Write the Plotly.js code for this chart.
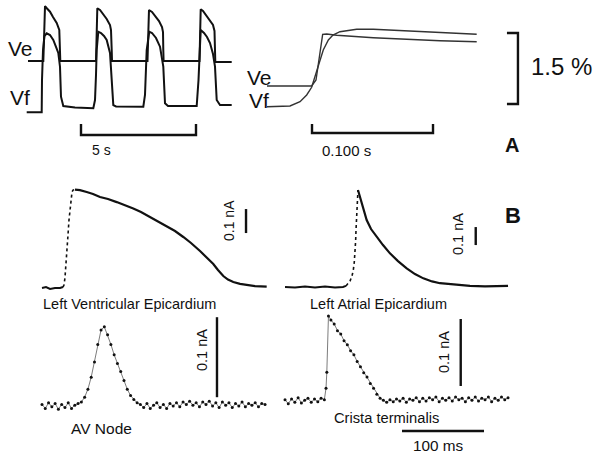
<!DOCTYPE html>
<html>
<head>
<meta charset="utf-8">
<script src="https://cdn.plot.ly/plotly-3.0.1.min.js"></script>
<style>body{margin:0;background:#fff}#chart{width:601px;height:456px}</style>
</head>
<body>
<div id="chart"></div>
<script>
// Panel A, left: optical signals (%) vs time (s)
const aVeT = [0.043,0.709,0.739,0.783,0.870,1.0,1.130,1.291,1.404,1.435,1.448,3.0,3.022,3.057,3.174,3.304,3.465,3.609,3.652,3.683,3.696,5.239,5.261,5.304,5.435,5.565,5.739,5.870,5.913,5.926,5.939,7.5,7.522,7.552,7.652,7.783,7.957,8.087,8.152,8.174,8.187,8.9];
const aVeY = [0.994,0.994,1.438,2.156,2.104,2.036,1.924,1.797,1.649,1.226,0.994,0.994,1.543,2.108,2.072,1.987,1.882,1.755,1.649,1.226,0.994,0.994,1.543,2.072,2.030,1.945,1.839,1.712,1.607,1.226,0.994,0.994,1.543,2.087,2.051,1.966,1.861,1.755,1.628,1.226,0.973,0.973];
const aVfT = [-0.013,0.639,0.652,0.696,0.761,0.857,1.0,1.143,1.261,1.361,1.435,1.478,1.578,2.087,2.883,2.957,3.0,3.030,3.1,3.217,3.348,3.465,3.609,3.683,3.752,3.870,5.057,5.130,5.204,5.317,5.435,5.609,5.783,5.926,6.0,6.130,7.378,7.457,7.522,7.552,7.696,7.826,7.957,8.087,8.174,8.248,8.391,8.9];
const aVfY = [-0.091,-0.091,0.592,1.226,1.522,1.579,1.543,1.438,1.290,1.163,0.873,0.239,0.042,0.011,-0.006,0.169,0.698,1.226,1.613,1.586,1.522,1.438,1.163,0.662,0.063,0.032,0.027,0.275,1.226,1.613,1.586,1.480,1.296,0.873,0.099,0.042,0.042,0.592,1.332,1.649,1.586,1.501,1.374,1.142,0.873,0.169,0.063,0.063];

// Panel A, right: upstroke on a fast time base (s)
const fVeT = [0,0.0369,0.0405,0.0421,0.0438,0.0460,0.0493,0.0576,0.0879,0.1155,0.1430,0.1733];
const fVeY = [0.465,0.465,0.592,0.846,1.163,1.558,1.564,1.537,1.486,1.452,1.423,1.402];
const fVfT = [0,0.0190,0.0273,0.0328,0.0369,0.0411,0.0465,0.0507,0.0545,0.0603,0.0741,0.0879,0.1155,0.1430,0.1733];
const fVfY = [0.027,0.042,0.133,0.275,0.438,0.767,1.226,1.438,1.543,1.613,1.664,1.664,1.634,1.600,1.558];

// Panel B: currents (nA) vs time (ms)
const lveRiseT = [25.6,26.8,28.0,29.3,30.5,31.7,32.9,34.1,35.4,36.6,37.8,40.2];
const lveRiseI = [0.004,0.0125,0.042,0.096,0.158,0.221,0.283,0.333,0.375,0.4,0.408,0.41];
const lveT = [0,4.9,9.8,15.9,22,25.6];
const lveI = [0,0.004,-0.004,0,0,0.004];
const lveDecayT = [40.2,46.3,54.5,62.2,70.7,80.5,91.1,101.2,111.3,120.7,131.7,141.5,152.1,162.2,172.3,181.7,192.7,201.2,208.9,214.6,221.1,226.8,233.3,241.5,249.6,259.8,274];
const lveDecayI = [0.41,0.408,0.4,0.392,0.379,0.371,0.358,0.346,0.331,0.317,0.296,0.279,0.26,0.2375,0.2125,0.1875,0.154,0.125,0.1,0.075,0.05,0.035,0.025,0.017,0.0125,0.008,0.006];

const laeT = [0,12.2,24.4,36.6,48.8,61,70.7,74.4];
const laeI = [0,-0.003,0.003,-0.003,0.003,-0.003,0,0.006];
const laeRiseT = [74.4,76.8,79.3,81.7,83.3,84.5,85.4,86.2,86.6,87.2,87.4,87.8,88.2,89];
const laeRiseI = [0.006,0.017,0.033,0.061,0.094,0.139,0.189,0.261,0.317,0.372,0.428,0.483,0.528,0.539];
const laeDecayT = [89,91.5,95.1,99.6,104.9,111.8,119.5,128,137.8,148.4,158.5,168.7,179.3,189,209.4,225.6,243.9,272];
const laeDecayI = [0.539,0.502,0.45,0.372,0.322,0.279,0.233,0.187,0.144,0.104,0.072,0.048,0.031,0.021,0.011,0.006,0.003,0.006];

const avT = [0,4,8,12,16,20,24,28,32,36,40,44,48,52,56,60,64,68,72,76,80,84,88,92,96,100,104,108,112,116,120,124,128,132,136,140,144,148,152,156,160,164,168,172,176,180,184,188,192,196,200,204,208,212,216,220,224,228,232,236,240,244,248,252,256,260,264,268,272];
const avI = [0.002,-0.003,0.004,-0.001,0.003,-0.004,0.002,-0.002,0.004,-0.003,0.001,0.003,0.005,0.011,0.021,0.036,0.055,0.077,0.095,0.099,0.089,0.077,0.064,0.053,0.043,0.032,0.021,0.013,0.008,0.004,0.002,-0.002,0.003,-0.003,0.001,0.004,-0.002,0.002,-0.003,0.003,0.000,0.004,-0.001,0.005,0.002,0.006,0.001,0.004,-0.001,0.005,0.002,0.006,0.000,0.004,-0.002,0.005,0.001,0.004,-0.002,0.003,0.000,0.005,-0.001,0.003,0.001,0.004,-0.001,0.003,0.002];

const ctT = [0,4,8,12,16,20,24,28,32,36,40,44,48,50,51,53,56,60,64,68,72,76,80,84,88,92,96,100,104,108,112,116,120,124,128,132,136,140,144,148,152,156,160,164,168,172,176,180,184,188,192,196,200,204,208,212,216,220,224,228,232,236,240,244,248,252,256,260,264,268,272];
const ctI = [0.002,-0.004,0.003,-0.002,0.005,-0.003,0.001,0.004,-0.002,0.003,-0.001,0.004,0.002,0.019,0.043,0.127,0.121,0.115,0.105,0.100,0.090,0.084,0.075,0.069,0.059,0.051,0.042,0.036,0.026,0.019,0.010,0.004,0.001,-0.002,0.002,-0.001,0.003,0.000,0.004,-0.002,0.003,0.001,0.005,-0.001,0.004,0.000,0.005,0.002,0.006,-0.001,0.004,0.001,0.005,0.000,0.006,0.002,0.004,-0.001,0.005,0.001,0.006,0.000,0.004,0.002,0.006,-0.001,0.004,0.001,0.006,0.002,0.005];

const W = 601, H = 456;
const fx = p => p / W;
const fy = p => 1 - p / H;

function ax(x0, x1, r) { return {domain: [fx(x0), fx(x1)], range: r, visible: false, fixedrange: true}; }
function ay(y0, y1, r) { return {domain: [fy(y1), fy(y0)], range: r, visible: false, fixedrange: true}; }

const black = '#111';
function line(x, y, xa, ya, w, col, dash) {
  return {x: x, y: y, xaxis: xa, yaxis: ya, type: 'scatter', mode: 'lines', hoverinfo: 'skip',
    line: {color: col || black, width: w, dash: dash || 'solid'}};
}
function dots(x, y, xa, ya) {
  return {x: x, y: y, xaxis: xa, yaxis: ya, type: 'scatter', mode: 'lines+markers', hoverinfo: 'skip',
    line: {color: '#444', width: 0.7}, marker: {color: black, size: 3}};
}

const data = [
  line(aVeT, aVeY, 'x', 'y', 2),
  line(aVfT, aVfY, 'x', 'y', 2),
  line(fVeT, fVeY, 'x2', 'y2', 1.4, '#333'),
  line(fVfT, fVfY, 'x2', 'y2', 1.4, '#333'),
  line(lveT, lveI, 'x3', 'y3', 2),
  line(lveRiseT, lveRiseI, 'x3', 'y3', 1.6, black, 'dot'),
  line(lveDecayT, lveDecayI, 'x3', 'y3', 2.2),
  line(laeT, laeI, 'x4', 'y4', 2),
  line(laeRiseT, laeRiseI, 'x4', 'y4', 1.6, black, 'dot'),
  line(laeDecayT, laeDecayI, 'x4', 'y4', 2.2),
  dots(avT, avI, 'x5', 'y5'),
  dots(ctT, ctI, 'x6', 'y6')
];

// scale bars
function bar(xr, yr, pts) {
  const d = pts.map((p, i) => (i ? 'L' : 'M') + p[0] + ',' + p[1]).join(' ');
  return {type: 'path', xref: xr, yref: yr, path: d, line: {color: black, width: 2.4}};
}
function vbar(xr, yr, x, y0, len) {
  return {type: 'line', xref: xr, yref: yr, x0: x, x1: x, y0: y0, y1: y0 + len, line: {color: black, width: 2.4}};
}
const shapes = [
  bar('x', 'y', [[2.348, -0.338], [2.348, -0.571], [7.348, -0.571], [7.348, -0.338]]),
  bar('x2', 'y2', [[0.0372, -0.338], [0.0372, -0.5285], [0.1372, -0.5285], [0.1372, -0.338]]),
  bar('x2', 'y2', [[0.1983, 1.586], [0.2074, 1.586], [0.2074, 0.086], [0.1983, 0.086]]),
  vbar('x3', 'y3', 248.8, 0.229, 0.1),
  vbar('x4', 'y4', 232.6, 0.233, 0.1),
  vbar('x5', 'y5', 213.4, 0.011, 0.1),
  vbar('x6', 'y6', 214.3, 0.0224, 0.1),
  {type: 'line', xref: 'x6', yref: 'y6', x0: 142.7, x1: 242.7, y0: -0.0448, y1: -0.0448, line: {color: black, width: 2.4}}
];

const font = 'Liberation Sans, Arial, sans-serif';
function label(text, x, y, size, opts) {
  return Object.assign({text: text, xref: 'paper', yref: 'paper', x: fx(x), y: fy(y), showarrow: false,
    xanchor: 'center', yanchor: 'middle', font: {family: font, size: size, color: black}}, opts || {});
}
const annotations = [
  label('Ve', 20, 48, 21), label('Vf', 20, 97, 21),
  label('Ve', 259, 77, 21), label('Vf', 259, 100, 21),
  label('1.5 %', 561, 67, 24),
  label('5 s', 101, 150, 14), label('0.100 s', 346, 150, 15),
  label('<b>A</b>', 512, 145, 20), label('<b>B</b>', 513, 215, 22),
  label('Left Ventricular Epicardium', 129, 304, 14.5),
  label('Left Atrial Epicardium', 378, 304, 14.5),
  label('AV Node', 101, 428, 15.5),
  label('Crista terminalis', 386, 418, 14.7),
  label('100 ms', 438, 445, 15.3),
  label('0.1 nA', 229, 221, 14, {textangle: -90}),
  label('0.1 nA', 458, 234, 14.5, {textangle: -90}),
  label('0.1 nA', 202, 350, 14.5, {textangle: -90}),
  label('0.1 nA', 444, 352, 14.5, {textangle: -90})
];

const layout = {
  width: W, height: H, margin: {l: 0, r: 0, t: 0, b: 0},
  paper_bgcolor: '#fff', plot_bgcolor: 'rgba(0,0,0,0)', showlegend: false,
  xaxis: ax(0, 250, [-1.1739, 9.6957]), yaxis: ay(0, 160, [-1.0994, 2.2833]),
  xaxis2: ax(250, 601, [-0.01405, 0.27603]), yaxis2: ay(0, 160, [-1.0994, 2.2833]),
  xaxis3: ax(0, 280, [-51.22, 290.24]), yaxis3: ay(170, 300, [-0.05, 0.4917]),
  xaxis4: ax(280, 601, [-6.098, 385.37]), yaxis4: ay(170, 300, [-0.0722, 0.65]),
  xaxis5: ax(0, 280, [-51.22, 290.24]), yaxis5: ay(305, 456, [-0.0625, 0.12625]),
  xaxis6: ax(280, 601, [-6.098, 385.37]), yaxis6: ay(305, 456, [-0.08209, 0.14328]),
  shapes: shapes, annotations: annotations
};

Plotly.newPlot('chart', data, layout, {staticPlot: true});
</script>
</body>
</html>
